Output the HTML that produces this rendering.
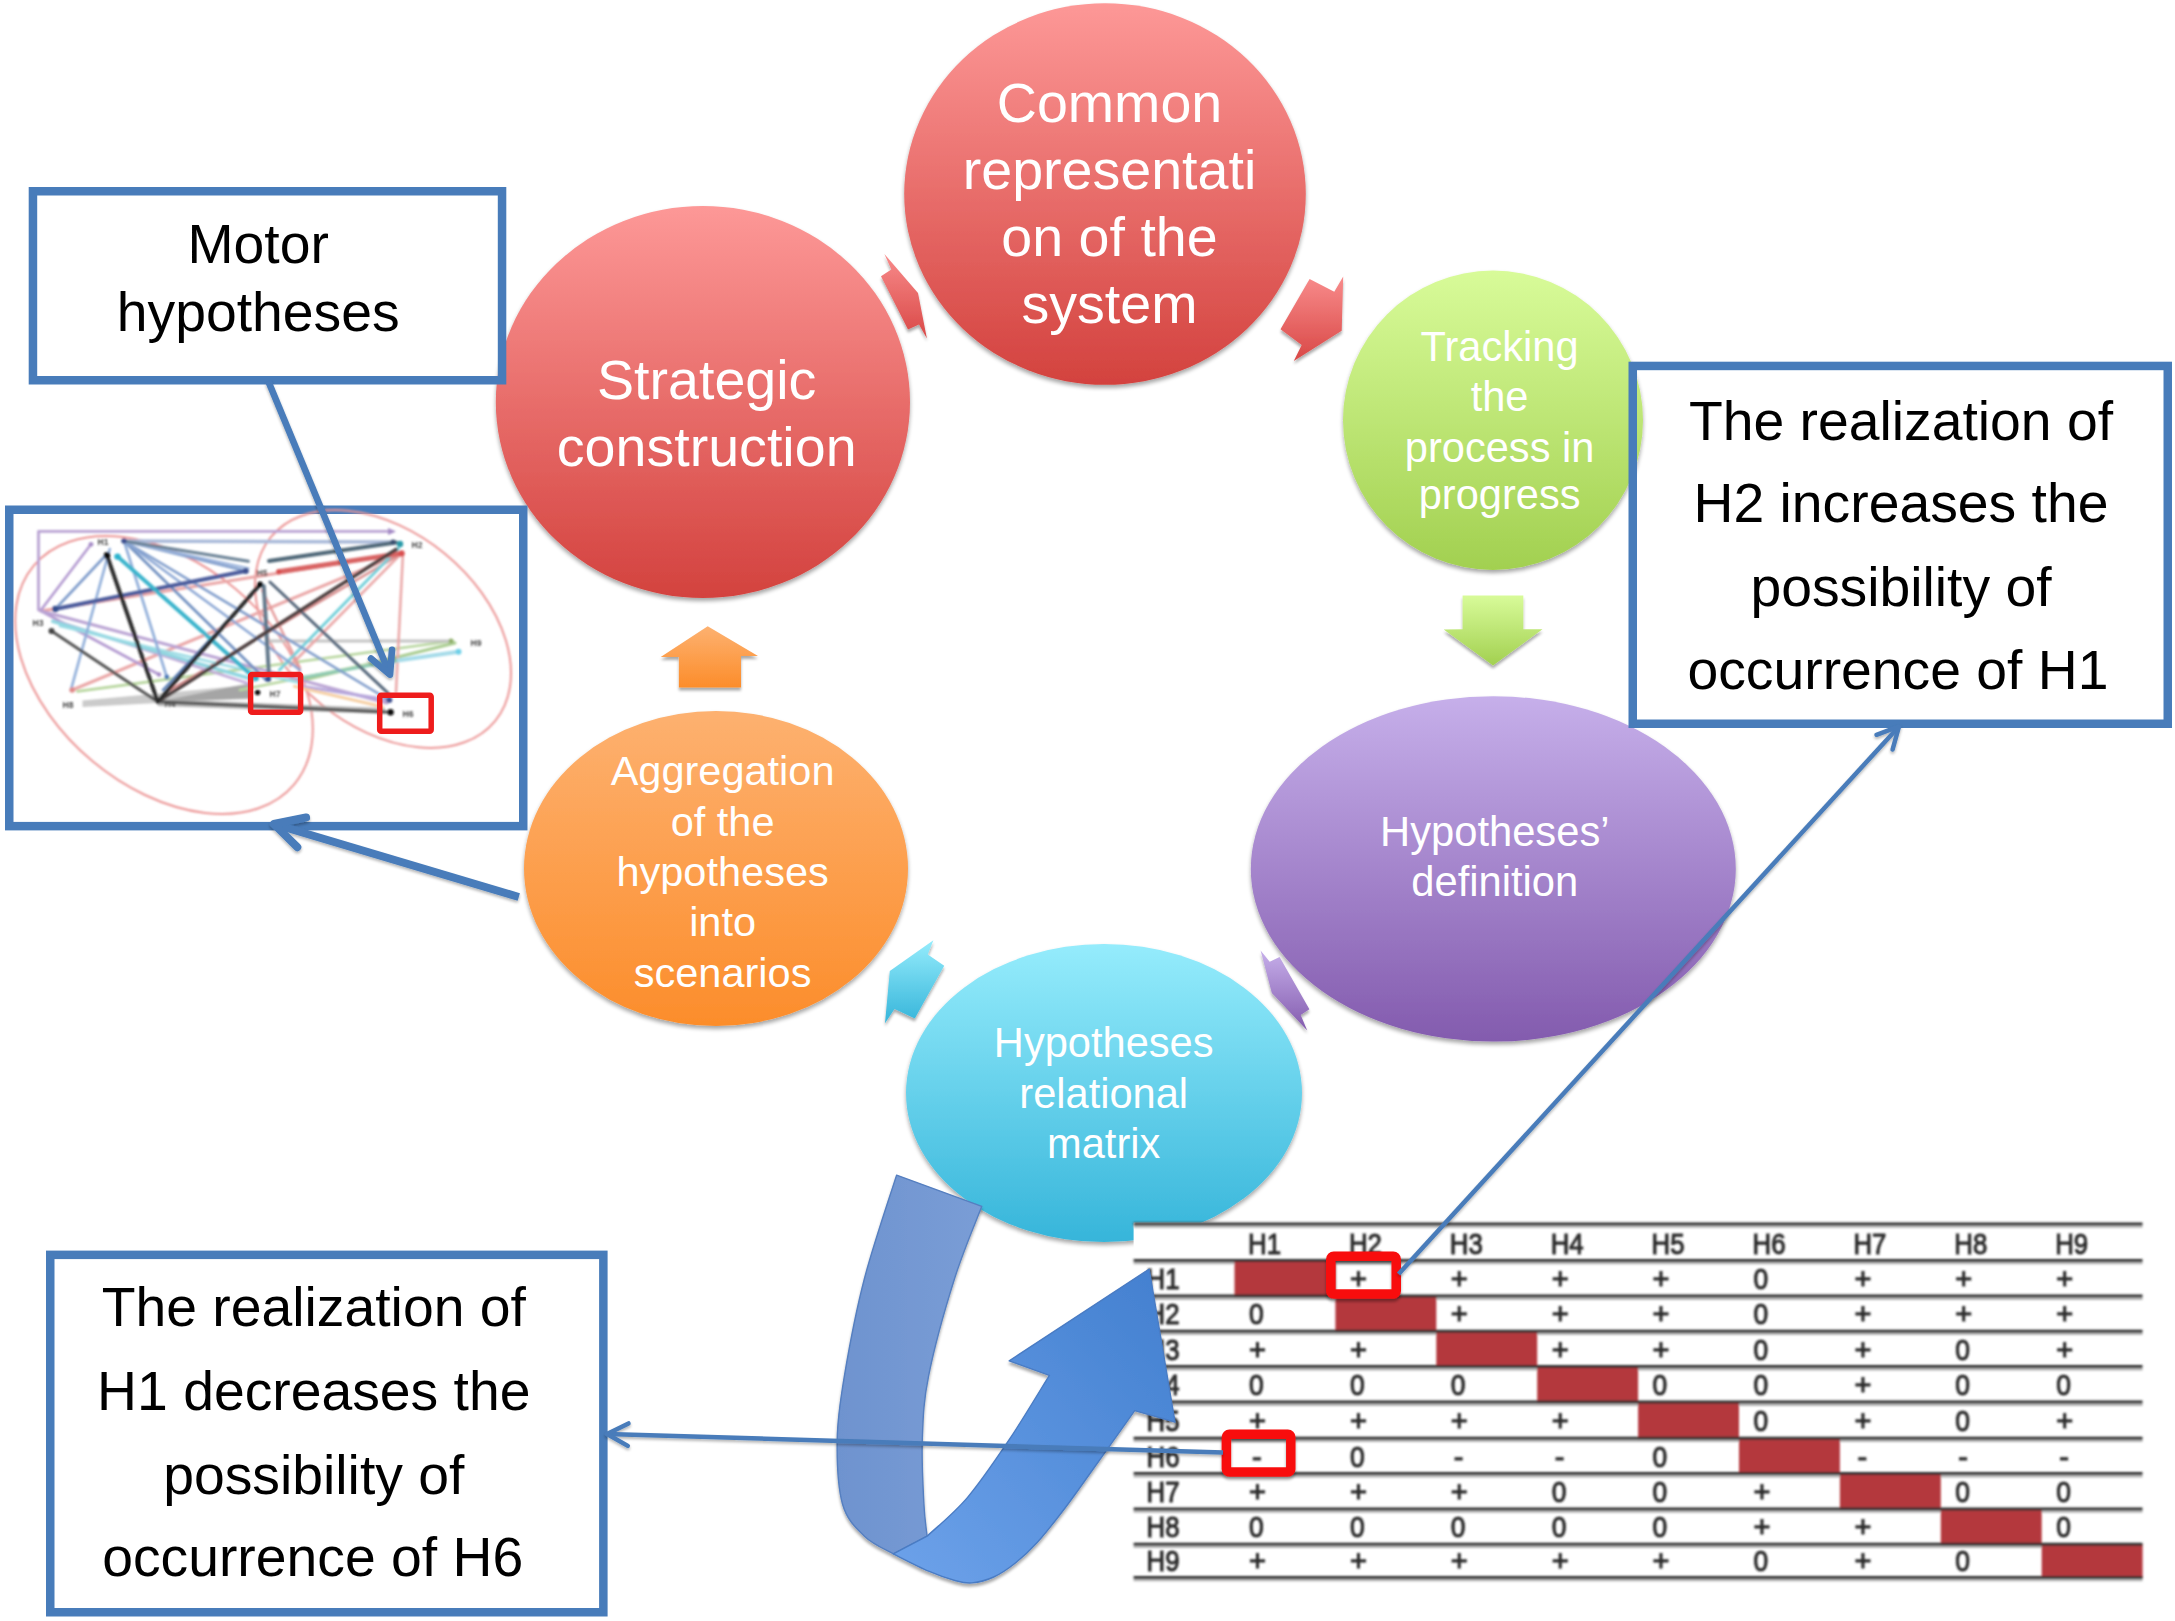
<!DOCTYPE html>
<html><head><meta charset="utf-8"><title>Scenario process diagram</title>
<style>
html,body{margin:0;padding:0;background:#fff;}
body{width:2175px;height:1621px;overflow:hidden;position:relative;font-family:"Liberation Sans",sans-serif;}
svg{position:absolute;left:0;top:0;display:block;}
text{font-family:"Liberation Sans",sans-serif;}
</style></head><body>
<svg width="2175" height="1621" viewBox="0 0 2175 1621">
<defs>
<linearGradient id="gRed" x1="0" y1="0" x2="0" y2="1"><stop offset="0" stop-color="#fd9897"/><stop offset="1" stop-color="#d3423e"/></linearGradient>
<linearGradient id="gRedA" x1="0" y1="0" x2="0" y2="1"><stop offset="0" stop-color="#f88b8b"/><stop offset="1" stop-color="#d94846"/></linearGradient>
<linearGradient id="gGreen" x1="0" y1="0" x2="0" y2="1"><stop offset="0" stop-color="#d8fb99"/><stop offset="1" stop-color="#a2d050"/></linearGradient>
<linearGradient id="gPurple" x1="0" y1="0" x2="0" y2="1"><stop offset="0" stop-color="#c6afea"/><stop offset="1" stop-color="#835bae"/></linearGradient>
<linearGradient id="gCyan" x1="0" y1="0" x2="0" y2="1"><stop offset="0" stop-color="#95ecfc"/><stop offset="1" stop-color="#36b5da"/></linearGradient>
<linearGradient id="gOrange" x1="0" y1="0" x2="0" y2="1"><stop offset="0" stop-color="#fdb170"/><stop offset="1" stop-color="#fc8d2b"/></linearGradient>
<filter id="sh" x="-10%" y="-10%" width="120%" height="125%"><feGaussianBlur in="SourceAlpha" stdDeviation="2"/><feOffset dx="0" dy="3" result="o"/><feComponentTransfer><feFuncA type="linear" slope="0.36"/></feComponentTransfer><feMerge><feMergeNode/><feMergeNode in="SourceGraphic"/></feMerge></filter>
<filter id="shs" x="-20%" y="-20%" width="140%" height="150%"><feGaussianBlur in="SourceAlpha" stdDeviation="1.6"/><feOffset dx="0" dy="2.5" result="o"/><feComponentTransfer><feFuncA type="linear" slope="0.34"/></feComponentTransfer><feMerge><feMergeNode/><feMergeNode in="SourceGraphic"/></feMerge></filter>
<filter id="bl1"><feGaussianBlur stdDeviation="1.25"/></filter>
<filter id="bl08"><feGaussianBlur stdDeviation="0.85"/></filter>
<filter id="bl07"><feGaussianBlur stdDeviation="0.7"/></filter>
<filter id="shl" x="-5%" y="-5%" width="110%" height="110%"><feGaussianBlur in="SourceAlpha" stdDeviation="1.4"/><feOffset dx="0" dy="2.2" result="o"/><feComponentTransfer><feFuncA type="linear" slope="0.3"/></feComponentTransfer><feMerge><feMergeNode/><feMergeNode in="SourceGraphic"/></feMerge></filter>
<filter id="bl05"><feGaussianBlur stdDeviation="0.5"/></filter>
</defs>
<rect x="0" y="0" width="2175" height="1621" fill="#ffffff"/>
<g filter="url(#sh)">
<ellipse cx="702.9" cy="402" rx="207.1" ry="196" fill="url(#gRed)"/>
<ellipse cx="1105" cy="194" rx="200.8" ry="190.8" fill="url(#gRed)"/>
<ellipse cx="1493" cy="420.3" rx="150" ry="149.7" fill="url(#gGreen)"/>
<ellipse cx="1493.3" cy="868.9" rx="242.5" ry="172.7" fill="url(#gPurple)"/>
<ellipse cx="1104" cy="1093" rx="198" ry="149" fill="url(#gCyan)"/>
<ellipse cx="716" cy="868.5" rx="192" ry="157.5" fill="url(#gOrange)"/>
</g>
<g filter="url(#shs)">
<polygon points="884.4,254 891.3,269.4 881,276.3 908,329.6 919,324.6 926.9,338.5 918,293" fill="url(#gRedA)" />
<polygon points="1309.6,279 1334.3,291.8 1343.2,276.5 1341.7,330.8 1293.8,361 1301.7,345 1280.5,329.3" fill="url(#gRedA)" />
<polygon points="1462.6,595.5 1523.3,595.5 1523.3,629.2 1542.5,629.2 1493,665.5 1443.7,629.6 1462.6,629.2" fill="url(#gGreen)" />
<polygon points="1260.6,950.6 1269.7,961.8 1279.6,957 1309.4,1009.3 1300.7,1015 1307.2,1030.5 1271.8,993" fill="url(#gPurple)" />
<polygon points="933.4,940.3 927.8,954.5 944.2,965.8 914.8,1018.4 894.5,1009 885,1023.2 889.8,971" fill="url(#gCyan)" />
<polygon points="707.7,626.3 758,655.9 741,655.9 741,687.4 678.9,687.4 678.9,657 660.7,657" fill="url(#gOrange)" />
</g>
<text x="706.7" y="399.2" font-size="55.6" text-anchor="middle" fill="#fff">Strategic</text>
<text x="706.7" y="466.2" font-size="55.6" text-anchor="middle" fill="#fff">construction</text>
<text x="1109.5" y="121.7" font-size="55.6" text-anchor="middle" fill="#fff">Common</text>
<text x="1109.5" y="188.8" font-size="55.6" text-anchor="middle" fill="#fff">representati</text>
<text x="1109.5" y="256" font-size="55.6" text-anchor="middle" fill="#fff">on of the</text>
<text x="1109.5" y="323" font-size="55.6" text-anchor="middle" fill="#fff">system</text>
<text x="1499.6" y="360.8" font-size="41.6" text-anchor="middle" fill="#fff">Tracking</text>
<text x="1499.6" y="411.2" font-size="41.6" text-anchor="middle" fill="#fff">the</text>
<text x="1499.6" y="461.5" font-size="41.6" text-anchor="middle" fill="#fff">process in</text>
<text x="1499.6" y="508.5" font-size="41.6" text-anchor="middle" fill="#fff">progress</text>
<text x="1494.8" y="846" font-size="41.7" text-anchor="middle" fill="#fff">Hypotheses’</text>
<text x="1494.8" y="896" font-size="41.7" text-anchor="middle" fill="#fff">definition</text>
<text x="1103.7" y="1057.3" font-size="41.6" text-anchor="middle" fill="#fff">Hypotheses</text>
<text x="1103.7" y="1107.7" font-size="41.6" text-anchor="middle" fill="#fff">relational</text>
<text x="1103.7" y="1158" font-size="41.6" text-anchor="middle" fill="#fff">matrix</text>
<text x="722.6" y="785.1" font-size="41.5" text-anchor="middle" fill="#fff">Aggregation</text>
<text x="722.6" y="835.5" font-size="41.5" text-anchor="middle" fill="#fff">of the</text>
<text x="722.6" y="885.9" font-size="41.5" text-anchor="middle" fill="#fff">hypotheses</text>
<text x="722.6" y="936.3" font-size="41.5" text-anchor="middle" fill="#fff">into</text>
<text x="722.6" y="986.7" font-size="41.5" text-anchor="middle" fill="#fff">scenarios</text>
<rect x="9.25" y="509.75" width="514" height="316.4" fill="#ffffff" stroke="#487cba" stroke-width="8.5"/>
<g filter="url(#bl1)">
<ellipse cx="164" cy="675" rx="170" ry="112" transform="rotate(40 164 675)" fill="none" stroke="#ec9696" stroke-width="2"/>
<ellipse cx="383" cy="629" rx="145" ry="97.5" transform="rotate(39.4 383 629)" fill="none" stroke="#ec9696" stroke-width="2"/>
<polygon points="82.5,700.5 250,685 250,698 82.5,707" fill="#c2c2c2" opacity="0.85"/>
<polygon points="157.7,701.7 250,683 250,699" fill="#8c8c8c" opacity="0.6"/>
<polygon points="157.7,699 385,708 385,714 157.7,706" fill="#a8a8a8" opacity="0.8"/>
<path d="M41,610 L38.5,610 L38.5,531.4 L393.4,531.4" fill="none" stroke="#b9a3d3" stroke-width="2.8" stroke-linejoin="round"/>
<polygon points="388,528 396,531.4 388,535" fill="#a58bc6"/>
<line x1="77.4" y1="691.4" x2="453" y2="641" stroke="#b7d69e" stroke-width="2.6" stroke-linecap="round" opacity="1"/>
<line x1="300" y1="681" x2="455" y2="643" stroke="#a9cc90" stroke-width="3" stroke-linecap="round" opacity="1"/>
<line x1="240" y1="690" x2="380" y2="662" stroke="#b7d69e" stroke-width="2.4" stroke-linecap="round" opacity="1"/>
<line x1="270" y1="641" x2="451.7" y2="641" stroke="#c4c4c4" stroke-width="3" stroke-linecap="round" opacity="1"/>
<line x1="41" y1="611" x2="401.5" y2="553.4" stroke="#eaa6a6" stroke-width="3" stroke-linecap="round" opacity="1"/>
<line x1="72.2" y1="690" x2="401.5" y2="553.4" stroke="#eaa6a6" stroke-width="3" stroke-linecap="round" opacity="1"/>
<line x1="402.9" y1="554.8" x2="396" y2="692" stroke="#eaa6a6" stroke-width="2.5" stroke-linecap="round" opacity="1"/>
<line x1="401.5" y1="553.4" x2="290" y2="666" stroke="#eaa6a6" stroke-width="2.6" stroke-linecap="round" opacity="1"/>
<line x1="170" y1="690" x2="399" y2="555" stroke="#d98d8d" stroke-width="2.4" stroke-linecap="round" opacity="1"/>
<line x1="262" y1="590" x2="300" y2="668" stroke="#e59a9a" stroke-width="2.4" stroke-linecap="round" opacity="1"/>
<line x1="41" y1="610" x2="91" y2="544.3" stroke="#b39ad0" stroke-width="2.6" stroke-linecap="round" opacity="1"/>
<line x1="41" y1="611" x2="159" y2="674.5" stroke="#b39ad0" stroke-width="2.6" stroke-linecap="round" opacity="1"/>
<line x1="41" y1="611" x2="387" y2="703" stroke="#b9a3d3" stroke-width="3" stroke-linecap="round" opacity="1"/>
<line x1="60" y1="622" x2="250" y2="684" stroke="#c0a9d8" stroke-width="2.6" stroke-linecap="round" opacity="1"/>
<line x1="300" y1="686" x2="389.3" y2="700" stroke="#b7a7dc" stroke-width="3" stroke-linecap="round" opacity="1"/>
<line x1="52.8" y1="621.4" x2="255" y2="680" stroke="#8fd5e0" stroke-width="3.5" stroke-linecap="round" opacity="1"/>
<line x1="60" y1="626" x2="300" y2="683" stroke="#9adbe4" stroke-width="2.6" stroke-linecap="round" opacity="1"/>
<line x1="398.8" y1="548" x2="279.4" y2="670" stroke="#74d0da" stroke-width="3" stroke-linecap="round" opacity="1"/>
<line x1="396" y1="660.7" x2="458.5" y2="651.8" stroke="#a5dbe9" stroke-width="4" stroke-linecap="round" opacity="1"/>
<line x1="300" y1="678" x2="396" y2="660.7" stroke="#8fcbb5" stroke-width="3" stroke-linecap="round" opacity="1"/>
<line x1="294.3" y1="686.4" x2="382.5" y2="706.8" stroke="#f6cfa3" stroke-width="3" stroke-linecap="round" opacity="1"/>
<line x1="124" y1="541" x2="393" y2="542" stroke="#a9b9d9" stroke-width="3.5" stroke-linecap="round" opacity="1"/>
<line x1="55.3" y1="609" x2="107" y2="554" stroke="#7f9ccb" stroke-width="2.6" stroke-linecap="round" opacity="1"/>
<line x1="109.8" y1="549" x2="70.9" y2="690" stroke="#8fadd9" stroke-width="2.6" stroke-linecap="round" opacity="1"/>
<line x1="124" y1="541" x2="245.8" y2="571" stroke="#7f9ccb" stroke-width="2.6" stroke-linecap="round" opacity="1"/>
<line x1="124" y1="541" x2="248.4" y2="568.3" stroke="#9bb4dc" stroke-width="2.4" stroke-linecap="round" opacity="1"/>
<line x1="124" y1="541" x2="389" y2="700" stroke="#7f9ccb" stroke-width="2.6" stroke-linecap="round" opacity="1"/>
<line x1="124" y1="541" x2="266" y2="680" stroke="#6f8fc0" stroke-width="2.6" stroke-linecap="round" opacity="1"/>
<line x1="124" y1="541" x2="166.8" y2="677" stroke="#8fadd9" stroke-width="2.6" stroke-linecap="round" opacity="1"/>
<line x1="124" y1="541" x2="300" y2="670" stroke="#8aa6d4" stroke-width="2.4" stroke-linecap="round" opacity="1"/>
<line x1="163" y1="690" x2="259" y2="587" stroke="#5b7fb5" stroke-width="2.5" stroke-linecap="round" opacity="1"/>
<line x1="124" y1="541" x2="248.4" y2="561.2" stroke="#6a8296" stroke-width="3" stroke-linecap="round" opacity="1"/>
<line x1="269" y1="561" x2="396" y2="542.6" stroke="#4f6778" stroke-width="4" stroke-linecap="round" opacity="1"/>
<line x1="269.9" y1="582" x2="388" y2="693.2" stroke="#54667a" stroke-width="3" stroke-linecap="round" opacity="1"/>
<line x1="263.8" y1="586" x2="269.2" y2="679.7" stroke="#64798c" stroke-width="4" stroke-linecap="round" opacity="1"/>
<line x1="55.3" y1="609" x2="245.8" y2="571" stroke="#4c5c9c" stroke-width="4" stroke-linecap="round" opacity="1"/>
<line x1="117.5" y1="556.6" x2="253.6" y2="677" stroke="#3bb4cc" stroke-width="4" stroke-linecap="round" opacity="1"/>
<line x1="278.7" y1="571.8" x2="401.5" y2="553.4" stroke="#d96464" stroke-width="5" stroke-linecap="round" opacity="1"/>
<line x1="51.5" y1="631" x2="157.7" y2="701.7" stroke="#555555" stroke-width="3" stroke-linecap="round" opacity="1"/>
<line x1="157.7" y1="701.7" x2="396" y2="549.4" stroke="#4d4040" stroke-width="3.6" stroke-linecap="round" opacity="1"/>
<line x1="157.7" y1="701.7" x2="390.6" y2="712.2" stroke="#555555" stroke-width="3" stroke-linecap="round" opacity="1"/>
<line x1="107" y1="555.3" x2="157.7" y2="701.7" stroke="#2c2c2c" stroke-width="4" stroke-linecap="round" opacity="1"/>
<line x1="157.7" y1="701.7" x2="260" y2="584.5" stroke="#2c2c2c" stroke-width="4" stroke-linecap="round" opacity="1"/>
<circle cx="107" cy="555.3" r="3.2" fill="#111"/>
<circle cx="117.5" cy="556.6" r="3.2" fill="#2bb3cd"/>
<circle cx="124" cy="541" r="2.8" fill="#3c4f8f"/>
<circle cx="55.3" cy="609" r="3.2" fill="#34508f"/>
<circle cx="51.5" cy="631" r="3" fill="#444"/>
<circle cx="245.8" cy="571" r="3" fill="#3c4f8f"/>
<circle cx="260" cy="584.5" r="3" fill="#111"/>
<circle cx="278.7" cy="571.8" r="2.6" fill="#d95050"/>
<circle cx="400" cy="544" r="3.2" fill="#2a9aa8"/>
<circle cx="401.5" cy="553.4" r="3.2" fill="#d95050"/>
<circle cx="393" cy="542" r="2.6" fill="#3a5070"/>
<circle cx="390.6" cy="712.2" r="3.2" fill="#111"/>
<circle cx="389.3" cy="700" r="3" fill="#3c4f8f"/>
<circle cx="257.6" cy="692.5" r="2.8" fill="#111"/>
<circle cx="72.2" cy="690" r="2.8" fill="#e08a8a"/>
<circle cx="458.5" cy="651.8" r="3" fill="#6fd0e8"/>
<circle cx="451" cy="641" r="2.4" fill="#8fae6a"/>
<circle cx="91" cy="544.3" r="2.4" fill="#a58bc6"/>
<circle cx="159" cy="674.5" r="2.2" fill="#a58bc6"/>
<circle cx="166.8" cy="677" r="2.4" fill="#4a78b8"/>
<circle cx="268" cy="679" r="3" fill="#34508f"/>
<circle cx="256" cy="678" r="3" fill="#2bb3cd"/>
<text x="103" y="545" font-size="8.5" font-weight="bold" fill="#444" text-anchor="middle">H1</text>
<text x="417" y="547.5" font-size="8.5" font-weight="bold" fill="#444" text-anchor="middle">H2</text>
<text x="38" y="625.5" font-size="8.5" font-weight="bold" fill="#444" text-anchor="middle">H3</text>
<text x="170" y="707" font-size="8.5" font-weight="bold" fill="#444" text-anchor="middle">H4</text>
<text x="262" y="576" font-size="8.5" font-weight="bold" fill="#444" text-anchor="middle">H5</text>
<text x="408" y="717" font-size="8.5" font-weight="bold" fill="#444" text-anchor="middle">H6</text>
<text x="275" y="697" font-size="8.5" font-weight="bold" fill="#444" text-anchor="middle">H7</text>
<text x="68" y="707.5" font-size="8.5" font-weight="bold" fill="#444" text-anchor="middle">H8</text>
<text x="476" y="646" font-size="8.5" font-weight="bold" fill="#444" text-anchor="middle">H9</text>
</g>
<rect x="250.6" y="674.4" width="50" height="37.9" rx="1.5" fill="none" stroke="#ee1c1c" stroke-width="5.5"/>
<rect x="379.7" y="695.2" width="51.5" height="36" rx="1.5" fill="none" stroke="#ee1c1c" stroke-width="5.5"/>
<rect x="1133.6" y="1222.6" width="1014.9000000000001" height="361" fill="#ffffff"/>
<g filter="url(#bl08)">
<line x1="1133.6" y1="1226.6" x2="2142.5" y2="1226.6" stroke="#b4b4b4" stroke-width="2.4"/>
<line x1="1133.6" y1="1263.0" x2="2142.5" y2="1263.0" stroke="#b4b4b4" stroke-width="2.4"/>
<line x1="1133.6" y1="1298.6999999999998" x2="2142.5" y2="1298.6999999999998" stroke="#b4b4b4" stroke-width="2.4"/>
<line x1="1133.6" y1="1333.8" x2="2142.5" y2="1333.8" stroke="#b4b4b4" stroke-width="2.4"/>
<line x1="1133.6" y1="1369.1999999999998" x2="2142.5" y2="1369.1999999999998" stroke="#b4b4b4" stroke-width="2.4"/>
<line x1="1133.6" y1="1404.6999999999998" x2="2142.5" y2="1404.6999999999998" stroke="#b4b4b4" stroke-width="2.4"/>
<line x1="1133.6" y1="1440.8" x2="2142.5" y2="1440.8" stroke="#b4b4b4" stroke-width="2.4"/>
<line x1="1133.6" y1="1476.1999999999998" x2="2142.5" y2="1476.1999999999998" stroke="#b4b4b4" stroke-width="2.4"/>
<line x1="1133.6" y1="1511.6" x2="2142.5" y2="1511.6" stroke="#b4b4b4" stroke-width="2.4"/>
<line x1="1133.6" y1="1546.8999999999999" x2="2142.5" y2="1546.8999999999999" stroke="#b4b4b4" stroke-width="2.4"/>
<line x1="1133.6" y1="1580.0" x2="2142.5" y2="1580.0" stroke="#b4b4b4" stroke-width="2.4"/>
<rect x="1234.5" y="1260.4" width="100.9" height="36.9" fill="#b4393d"/>
<rect x="1335.4" y="1296.1" width="100.9" height="36.3" fill="#b4393d"/>
<rect x="1436.3" y="1331.2" width="100.9" height="36.6" fill="#b4393d"/>
<rect x="1537.2" y="1366.6" width="100.9" height="36.7" fill="#b4393d"/>
<rect x="1638.1" y="1402.1" width="100.9" height="37.3" fill="#b4393d"/>
<rect x="1739.0" y="1438.2" width="100.9" height="36.6" fill="#b4393d"/>
<rect x="1839.9" y="1473.6" width="100.9" height="36.6" fill="#b4393d"/>
<rect x="1940.8" y="1509.0" width="100.9" height="36.5" fill="#b4393d"/>
<rect x="2041.7" y="1544.3" width="100.9" height="34.3" fill="#b4393d"/>
<line x1="1133.6" y1="1224" x2="2142.5" y2="1224" stroke="#333333" stroke-width="3"/>
<line x1="1133.6" y1="1260.4" x2="2142.5" y2="1260.4" stroke="#333333" stroke-width="3"/>
<line x1="1133.6" y1="1296.1" x2="2142.5" y2="1296.1" stroke="#333333" stroke-width="3"/>
<line x1="1133.6" y1="1331.2" x2="2142.5" y2="1331.2" stroke="#333333" stroke-width="3"/>
<line x1="1133.6" y1="1366.6" x2="2142.5" y2="1366.6" stroke="#333333" stroke-width="3"/>
<line x1="1133.6" y1="1402.1" x2="2142.5" y2="1402.1" stroke="#333333" stroke-width="3"/>
<line x1="1133.6" y1="1438.2" x2="2142.5" y2="1438.2" stroke="#333333" stroke-width="3"/>
<line x1="1133.6" y1="1473.6" x2="2142.5" y2="1473.6" stroke="#333333" stroke-width="3"/>
<line x1="1133.6" y1="1509" x2="2142.5" y2="1509" stroke="#333333" stroke-width="3"/>
<line x1="1133.6" y1="1544.3" x2="2142.5" y2="1544.3" stroke="#333333" stroke-width="3"/>
<line x1="1133.6" y1="1577.4" x2="2142.5" y2="1577.4" stroke="#333333" stroke-width="3"/>
<text x="1248.0" y="1254.4" font-size="29" textLength="33.0" lengthAdjust="spacingAndGlyphs" fill="#2b2b2b" stroke="#2b2b2b" stroke-width="1.05">H1</text>
<text x="1348.9" y="1254.4" font-size="29" textLength="33.0" lengthAdjust="spacingAndGlyphs" fill="#2b2b2b" stroke="#2b2b2b" stroke-width="1.05">H2</text>
<text x="1449.8" y="1254.4" font-size="29" textLength="33.0" lengthAdjust="spacingAndGlyphs" fill="#2b2b2b" stroke="#2b2b2b" stroke-width="1.05">H3</text>
<text x="1550.7" y="1254.4" font-size="29" textLength="33.0" lengthAdjust="spacingAndGlyphs" fill="#2b2b2b" stroke="#2b2b2b" stroke-width="1.05">H4</text>
<text x="1651.6" y="1254.4" font-size="29" textLength="33.0" lengthAdjust="spacingAndGlyphs" fill="#2b2b2b" stroke="#2b2b2b" stroke-width="1.05">H5</text>
<text x="1752.5" y="1254.4" font-size="29" textLength="33.0" lengthAdjust="spacingAndGlyphs" fill="#2b2b2b" stroke="#2b2b2b" stroke-width="1.05">H6</text>
<text x="1853.4" y="1254.4" font-size="29" textLength="33.0" lengthAdjust="spacingAndGlyphs" fill="#2b2b2b" stroke="#2b2b2b" stroke-width="1.05">H7</text>
<text x="1954.3" y="1254.4" font-size="29" textLength="33.0" lengthAdjust="spacingAndGlyphs" fill="#2b2b2b" stroke="#2b2b2b" stroke-width="1.05">H8</text>
<text x="2055.2" y="1254.4" font-size="29" textLength="33.0" lengthAdjust="spacingAndGlyphs" fill="#2b2b2b" stroke="#2b2b2b" stroke-width="1.05">H9</text>
<text x="1146.5" y="1288.8" font-size="29" textLength="33.0" lengthAdjust="spacingAndGlyphs" fill="#2b2b2b" stroke="#2b2b2b" stroke-width="1.05">H1</text>
<text x="1349.9" y="1288.8" font-size="29" fill="#2b2b2b" stroke="#2b2b2b" stroke-width="1.05">+</text>
<text x="1450.8" y="1288.8" font-size="29" fill="#2b2b2b" stroke="#2b2b2b" stroke-width="1.05">+</text>
<text x="1551.7" y="1288.8" font-size="29" fill="#2b2b2b" stroke="#2b2b2b" stroke-width="1.05">+</text>
<text x="1652.6" y="1288.8" font-size="29" fill="#2b2b2b" stroke="#2b2b2b" stroke-width="1.05">+</text>
<text x="1753.5" y="1288.8" font-size="29" textLength="14.7" lengthAdjust="spacingAndGlyphs" fill="#2b2b2b" stroke="#2b2b2b" stroke-width="1.05">0</text>
<text x="1854.4" y="1288.8" font-size="29" fill="#2b2b2b" stroke="#2b2b2b" stroke-width="1.05">+</text>
<text x="1955.3" y="1288.8" font-size="29" fill="#2b2b2b" stroke="#2b2b2b" stroke-width="1.05">+</text>
<text x="2056.2" y="1288.8" font-size="29" fill="#2b2b2b" stroke="#2b2b2b" stroke-width="1.05">+</text>
<text x="1146.5" y="1324.2" font-size="29" textLength="33.0" lengthAdjust="spacingAndGlyphs" fill="#2b2b2b" stroke="#2b2b2b" stroke-width="1.05">H2</text>
<text x="1249.0" y="1324.2" font-size="29" textLength="14.7" lengthAdjust="spacingAndGlyphs" fill="#2b2b2b" stroke="#2b2b2b" stroke-width="1.05">0</text>
<text x="1450.8" y="1324.2" font-size="29" fill="#2b2b2b" stroke="#2b2b2b" stroke-width="1.05">+</text>
<text x="1551.7" y="1324.2" font-size="29" fill="#2b2b2b" stroke="#2b2b2b" stroke-width="1.05">+</text>
<text x="1652.6" y="1324.2" font-size="29" fill="#2b2b2b" stroke="#2b2b2b" stroke-width="1.05">+</text>
<text x="1753.5" y="1324.2" font-size="29" textLength="14.7" lengthAdjust="spacingAndGlyphs" fill="#2b2b2b" stroke="#2b2b2b" stroke-width="1.05">0</text>
<text x="1854.4" y="1324.2" font-size="29" fill="#2b2b2b" stroke="#2b2b2b" stroke-width="1.05">+</text>
<text x="1955.3" y="1324.2" font-size="29" fill="#2b2b2b" stroke="#2b2b2b" stroke-width="1.05">+</text>
<text x="2056.2" y="1324.2" font-size="29" fill="#2b2b2b" stroke="#2b2b2b" stroke-width="1.05">+</text>
<text x="1146.5" y="1359.5" font-size="29" textLength="33.0" lengthAdjust="spacingAndGlyphs" fill="#2b2b2b" stroke="#2b2b2b" stroke-width="1.05">H3</text>
<text x="1249.0" y="1359.5" font-size="29" fill="#2b2b2b" stroke="#2b2b2b" stroke-width="1.05">+</text>
<text x="1349.9" y="1359.5" font-size="29" fill="#2b2b2b" stroke="#2b2b2b" stroke-width="1.05">+</text>
<text x="1551.7" y="1359.5" font-size="29" fill="#2b2b2b" stroke="#2b2b2b" stroke-width="1.05">+</text>
<text x="1652.6" y="1359.5" font-size="29" fill="#2b2b2b" stroke="#2b2b2b" stroke-width="1.05">+</text>
<text x="1753.5" y="1359.5" font-size="29" textLength="14.7" lengthAdjust="spacingAndGlyphs" fill="#2b2b2b" stroke="#2b2b2b" stroke-width="1.05">0</text>
<text x="1854.4" y="1359.5" font-size="29" fill="#2b2b2b" stroke="#2b2b2b" stroke-width="1.05">+</text>
<text x="1955.3" y="1359.5" font-size="29" textLength="14.7" lengthAdjust="spacingAndGlyphs" fill="#2b2b2b" stroke="#2b2b2b" stroke-width="1.05">0</text>
<text x="2056.2" y="1359.5" font-size="29" fill="#2b2b2b" stroke="#2b2b2b" stroke-width="1.05">+</text>
<text x="1146.5" y="1394.9" font-size="29" textLength="33.0" lengthAdjust="spacingAndGlyphs" fill="#2b2b2b" stroke="#2b2b2b" stroke-width="1.05">H4</text>
<text x="1249.0" y="1394.9" font-size="29" textLength="14.7" lengthAdjust="spacingAndGlyphs" fill="#2b2b2b" stroke="#2b2b2b" stroke-width="1.05">0</text>
<text x="1349.9" y="1394.9" font-size="29" textLength="14.7" lengthAdjust="spacingAndGlyphs" fill="#2b2b2b" stroke="#2b2b2b" stroke-width="1.05">0</text>
<text x="1450.8" y="1394.9" font-size="29" textLength="14.7" lengthAdjust="spacingAndGlyphs" fill="#2b2b2b" stroke="#2b2b2b" stroke-width="1.05">0</text>
<text x="1652.6" y="1394.9" font-size="29" textLength="14.7" lengthAdjust="spacingAndGlyphs" fill="#2b2b2b" stroke="#2b2b2b" stroke-width="1.05">0</text>
<text x="1753.5" y="1394.9" font-size="29" textLength="14.7" lengthAdjust="spacingAndGlyphs" fill="#2b2b2b" stroke="#2b2b2b" stroke-width="1.05">0</text>
<text x="1854.4" y="1394.9" font-size="29" fill="#2b2b2b" stroke="#2b2b2b" stroke-width="1.05">+</text>
<text x="1955.3" y="1394.9" font-size="29" textLength="14.7" lengthAdjust="spacingAndGlyphs" fill="#2b2b2b" stroke="#2b2b2b" stroke-width="1.05">0</text>
<text x="2056.2" y="1394.9" font-size="29" textLength="14.7" lengthAdjust="spacingAndGlyphs" fill="#2b2b2b" stroke="#2b2b2b" stroke-width="1.05">0</text>
<text x="1146.5" y="1430.8" font-size="29" textLength="33.0" lengthAdjust="spacingAndGlyphs" fill="#2b2b2b" stroke="#2b2b2b" stroke-width="1.05">H5</text>
<text x="1249.0" y="1430.8" font-size="29" fill="#2b2b2b" stroke="#2b2b2b" stroke-width="1.05">+</text>
<text x="1349.9" y="1430.8" font-size="29" fill="#2b2b2b" stroke="#2b2b2b" stroke-width="1.05">+</text>
<text x="1450.8" y="1430.8" font-size="29" fill="#2b2b2b" stroke="#2b2b2b" stroke-width="1.05">+</text>
<text x="1551.7" y="1430.8" font-size="29" fill="#2b2b2b" stroke="#2b2b2b" stroke-width="1.05">+</text>
<text x="1753.5" y="1430.8" font-size="29" textLength="14.7" lengthAdjust="spacingAndGlyphs" fill="#2b2b2b" stroke="#2b2b2b" stroke-width="1.05">0</text>
<text x="1854.4" y="1430.8" font-size="29" fill="#2b2b2b" stroke="#2b2b2b" stroke-width="1.05">+</text>
<text x="1955.3" y="1430.8" font-size="29" textLength="14.7" lengthAdjust="spacingAndGlyphs" fill="#2b2b2b" stroke="#2b2b2b" stroke-width="1.05">0</text>
<text x="2056.2" y="1430.8" font-size="29" fill="#2b2b2b" stroke="#2b2b2b" stroke-width="1.05">+</text>
<text x="1146.5" y="1466.5" font-size="29" textLength="33.0" lengthAdjust="spacingAndGlyphs" fill="#2b2b2b" stroke="#2b2b2b" stroke-width="1.05">H6</text>
<text x="1252.0" y="1466.5" font-size="29" fill="#2b2b2b" stroke="#2b2b2b" stroke-width="1.05">-</text>
<text x="1349.9" y="1466.5" font-size="29" textLength="14.7" lengthAdjust="spacingAndGlyphs" fill="#2b2b2b" stroke="#2b2b2b" stroke-width="1.05">0</text>
<text x="1453.8" y="1466.5" font-size="29" fill="#2b2b2b" stroke="#2b2b2b" stroke-width="1.05">-</text>
<text x="1554.7" y="1466.5" font-size="29" fill="#2b2b2b" stroke="#2b2b2b" stroke-width="1.05">-</text>
<text x="1652.6" y="1466.5" font-size="29" textLength="14.7" lengthAdjust="spacingAndGlyphs" fill="#2b2b2b" stroke="#2b2b2b" stroke-width="1.05">0</text>
<text x="1857.4" y="1466.5" font-size="29" fill="#2b2b2b" stroke="#2b2b2b" stroke-width="1.05">-</text>
<text x="1958.3" y="1466.5" font-size="29" fill="#2b2b2b" stroke="#2b2b2b" stroke-width="1.05">-</text>
<text x="2059.2" y="1466.5" font-size="29" fill="#2b2b2b" stroke="#2b2b2b" stroke-width="1.05">-</text>
<text x="1146.5" y="1501.9" font-size="29" textLength="33.0" lengthAdjust="spacingAndGlyphs" fill="#2b2b2b" stroke="#2b2b2b" stroke-width="1.05">H7</text>
<text x="1249.0" y="1501.9" font-size="29" fill="#2b2b2b" stroke="#2b2b2b" stroke-width="1.05">+</text>
<text x="1349.9" y="1501.9" font-size="29" fill="#2b2b2b" stroke="#2b2b2b" stroke-width="1.05">+</text>
<text x="1450.8" y="1501.9" font-size="29" fill="#2b2b2b" stroke="#2b2b2b" stroke-width="1.05">+</text>
<text x="1551.7" y="1501.9" font-size="29" textLength="14.7" lengthAdjust="spacingAndGlyphs" fill="#2b2b2b" stroke="#2b2b2b" stroke-width="1.05">0</text>
<text x="1652.6" y="1501.9" font-size="29" textLength="14.7" lengthAdjust="spacingAndGlyphs" fill="#2b2b2b" stroke="#2b2b2b" stroke-width="1.05">0</text>
<text x="1753.5" y="1501.9" font-size="29" fill="#2b2b2b" stroke="#2b2b2b" stroke-width="1.05">+</text>
<text x="1955.3" y="1501.9" font-size="29" textLength="14.7" lengthAdjust="spacingAndGlyphs" fill="#2b2b2b" stroke="#2b2b2b" stroke-width="1.05">0</text>
<text x="2056.2" y="1501.9" font-size="29" textLength="14.7" lengthAdjust="spacingAndGlyphs" fill="#2b2b2b" stroke="#2b2b2b" stroke-width="1.05">0</text>
<text x="1146.5" y="1537.2" font-size="29" textLength="33.0" lengthAdjust="spacingAndGlyphs" fill="#2b2b2b" stroke="#2b2b2b" stroke-width="1.05">H8</text>
<text x="1249.0" y="1537.2" font-size="29" textLength="14.7" lengthAdjust="spacingAndGlyphs" fill="#2b2b2b" stroke="#2b2b2b" stroke-width="1.05">0</text>
<text x="1349.9" y="1537.2" font-size="29" textLength="14.7" lengthAdjust="spacingAndGlyphs" fill="#2b2b2b" stroke="#2b2b2b" stroke-width="1.05">0</text>
<text x="1450.8" y="1537.2" font-size="29" textLength="14.7" lengthAdjust="spacingAndGlyphs" fill="#2b2b2b" stroke="#2b2b2b" stroke-width="1.05">0</text>
<text x="1551.7" y="1537.2" font-size="29" textLength="14.7" lengthAdjust="spacingAndGlyphs" fill="#2b2b2b" stroke="#2b2b2b" stroke-width="1.05">0</text>
<text x="1652.6" y="1537.2" font-size="29" textLength="14.7" lengthAdjust="spacingAndGlyphs" fill="#2b2b2b" stroke="#2b2b2b" stroke-width="1.05">0</text>
<text x="1753.5" y="1537.2" font-size="29" fill="#2b2b2b" stroke="#2b2b2b" stroke-width="1.05">+</text>
<text x="1854.4" y="1537.2" font-size="29" fill="#2b2b2b" stroke="#2b2b2b" stroke-width="1.05">+</text>
<text x="2056.2" y="1537.2" font-size="29" textLength="14.7" lengthAdjust="spacingAndGlyphs" fill="#2b2b2b" stroke="#2b2b2b" stroke-width="1.05">0</text>
<text x="1146.5" y="1571.4" font-size="29" textLength="33.0" lengthAdjust="spacingAndGlyphs" fill="#2b2b2b" stroke="#2b2b2b" stroke-width="1.05">H9</text>
<text x="1249.0" y="1571.4" font-size="29" fill="#2b2b2b" stroke="#2b2b2b" stroke-width="1.05">+</text>
<text x="1349.9" y="1571.4" font-size="29" fill="#2b2b2b" stroke="#2b2b2b" stroke-width="1.05">+</text>
<text x="1450.8" y="1571.4" font-size="29" fill="#2b2b2b" stroke="#2b2b2b" stroke-width="1.05">+</text>
<text x="1551.7" y="1571.4" font-size="29" fill="#2b2b2b" stroke="#2b2b2b" stroke-width="1.05">+</text>
<text x="1652.6" y="1571.4" font-size="29" fill="#2b2b2b" stroke="#2b2b2b" stroke-width="1.05">+</text>
<text x="1753.5" y="1571.4" font-size="29" textLength="14.7" lengthAdjust="spacingAndGlyphs" fill="#2b2b2b" stroke="#2b2b2b" stroke-width="1.05">0</text>
<text x="1854.4" y="1571.4" font-size="29" fill="#2b2b2b" stroke="#2b2b2b" stroke-width="1.05">+</text>
<text x="1955.3" y="1571.4" font-size="29" textLength="14.7" lengthAdjust="spacingAndGlyphs" fill="#2b2b2b" stroke="#2b2b2b" stroke-width="1.05">0</text>
</g>
<g filter="url(#shs)">
<rect x="1330.75" y="1256.2" width="65.5" height="37.8" rx="3" fill="none" stroke="#f80d0d" stroke-width="9.5"/>
<rect x="1226.4" y="1434.2" width="64.4" height="37.8" rx="3" fill="none" stroke="#f80d0d" stroke-width="9.5"/>
</g>
<linearGradient id="gBack" x1="0" y1="0" x2="1" y2="0"><stop offset="0" stop-color="#6e93cf"/><stop offset="1" stop-color="#7a9dd6"/></linearGradient>
<linearGradient id="gFront" x1="0" y1="1" x2="1" y2="0"><stop offset="0" stop-color="#6da2ea"/><stop offset="1" stop-color="#427fcf"/></linearGradient>
<g filter="url(#shs)">
<path d="M896.6,1175.1 C891.2,1192.4 873.1,1245.3 864.4,1278.7 C855.7,1312.1 849.0,1348.5 844.5,1375.3 C840.0,1402.1 837.5,1418.2 837.2,1439.7 C836.9,1461.2 838.0,1487.9 842.5,1504.0 C847.0,1520.1 855.9,1527.9 864.4,1536.2 C872.9,1544.5 888.5,1551.0 893.3,1553.9 L927.1,1536.2 L927.1,1536.2 C926.6,1530.8 924.7,1520.1 923.9,1504.0 C923.1,1487.9 921.5,1461.2 922.3,1439.7 C923.1,1418.2 923.3,1402.1 928.7,1375.3 C934.1,1348.5 945.6,1306.9 954.5,1278.7 C963.4,1250.5 977.2,1218.4 981.8,1206.3 Z" fill="url(#gBack)" stroke="#557fc0" stroke-width="1.4" stroke-linejoin="round"/>
<path d="M893.3,1553.9 C899.2,1556.8 918.2,1566.7 928.6,1571.2 C939.0,1575.7 948.5,1578.8 955.7,1580.7 C962.9,1582.7 965.7,1583.5 972.0,1582.9 C978.3,1582.3 986.5,1580.3 993.7,1577.0 C1000.9,1573.7 1008.1,1568.8 1015.4,1563.0 C1022.6,1557.2 1029.0,1551.5 1037.2,1542.5 C1045.4,1533.5 1055.3,1520.8 1064.3,1509.0 C1073.3,1497.2 1079.7,1487.9 1091.4,1471.5 C1103.1,1455.1 1127.5,1420.8 1134.7,1410.7 L1175,1422 L1149.2,1269.1 L1009.2,1360.8 L1049.4,1375.3 C1042.7,1386.0 1022.9,1419.3 1009.2,1439.7 C995.5,1460.1 981.1,1481.5 967.4,1497.6 C953.7,1513.7 933.8,1529.8 927.1,1536.2 Z" fill="url(#gFront)" stroke="#4a7cc4" stroke-width="1.4" stroke-linejoin="round"/>
</g>
<rect x="32.95" y="191.25" width="469.1" height="189.0" fill="none" stroke="#487cba" stroke-width="8.5"/>
<rect x="1632.75" y="365.95" width="535.0" height="357.8" fill="none" stroke="#487cba" stroke-width="8.5"/>
<rect x="50.25" y="1254.85" width="553.1" height="357.4000000000001" fill="none" stroke="#487cba" stroke-width="8.5"/>
<text x="258.2" y="263.4" font-size="55.3" text-anchor="middle" fill="#000">Motor</text>
<text x="258.2" y="331.4" font-size="55.3" text-anchor="middle" fill="#000">hypotheses</text>
<text x="1901" y="440" font-size="55.3" text-anchor="middle" fill="#000">The realization of</text>
<text x="1901" y="522.4" font-size="55.3" text-anchor="middle" fill="#000">H2 increases the</text>
<text x="1901" y="605.7" font-size="55.3" text-anchor="middle" fill="#000">possibility of</text>
<text x="1898" y="689" font-size="55.3" text-anchor="middle" fill="#000">occurrence of H1</text>
<text x="313.8" y="1325.6" font-size="55.3" text-anchor="middle" fill="#000">The realization of</text>
<text x="313.8" y="1409.9" font-size="55.3" text-anchor="middle" fill="#000">H1 decreases the</text>
<text x="313.8" y="1493.6" font-size="55.3" text-anchor="middle" fill="#000">possibility of</text>
<text x="312.7" y="1575.6" font-size="55.3" text-anchor="middle" fill="#000">occurrence of H6</text>
<g filter="url(#shl)">
<line x1="268.4" y1="381.4" x2="390" y2="674.8" stroke="#487cba" stroke-width="6.6" stroke-linecap="butt"/>
<polyline points="392.0,649.9 390,674.8 371.0,658.6" fill="none" stroke="#487cba" stroke-width="6.6" stroke-linecap="round" stroke-linejoin="round"/>
<line x1="518.8" y1="897" x2="273.8" y2="824" stroke="#487cba" stroke-width="8" stroke-linecap="butt"/>
<polyline points="297.3,847.2 273.8,824 306.1,817.5" fill="none" stroke="#487cba" stroke-width="8" stroke-linecap="round" stroke-linejoin="round"/>
<line x1="1398.6" y1="1274" x2="1899" y2="726.4" stroke="#487cba" stroke-width="4.5" stroke-linecap="butt"/>
<polyline points="1876.5,734.8 1899,726.4 1892.6,749.5" fill="none" stroke="#487cba" stroke-width="4.5" stroke-linecap="round" stroke-linejoin="round"/>
<line x1="1223" y1="1452.5" x2="607" y2="1434" stroke="#487cba" stroke-width="4.5" stroke-linecap="butt"/>
<polyline points="627.8,1445.9 607,1434 628.5,1423.4" fill="none" stroke="#487cba" stroke-width="4.5" stroke-linecap="round" stroke-linejoin="round"/>
</g>
</svg>
</body></html>
